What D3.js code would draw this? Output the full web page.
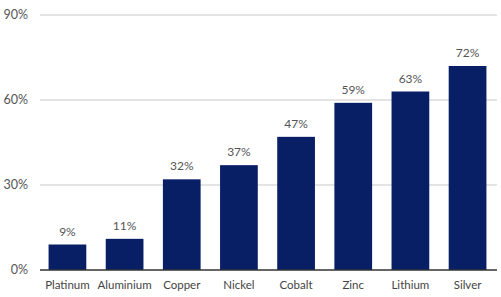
<!DOCTYPE html>
<html>
<head>
<meta charset="utf-8">
<script src="https://cdn.jsdelivr.net/npm/d3@7"></script>
<style>
  body { margin: 0; background: #fff; }
  text { font-family: Lato, "Open Sans", sans-serif; }
</style>
</head>
<body>
<div id="chart"></div>
<script>
var metals = ["Platinum", "Aluminium", "Copper", "Nickel", "Cobalt", "Zinc", "Lithium", "Silver"];
var shares = [9, 11, 32, 37, 47, 59, 63, 72];
var yTicks = [0, 30, 60, 90];

var width = 501, height = 297;
var margin = { top: 15, right: 4, bottom: 27, left: 40 };

var svg = d3.select("#chart").append("svg")
    .attr("width", width)
    .attr("height", height);

var x = d3.scaleBand()
    .domain(metals)
    .range([margin.left, 495])
    .paddingInner(0.34)
    .paddingOuter(0.15);

var y = d3.scaleLinear()
    .domain([0, 90])
    .range([height - margin.bottom, margin.top]);

// gridlines
svg.selectAll("line.grid")
    .data(yTicks.slice(1))
    .enter().append("line")
    .attr("class", "grid")
    .attr("x1", margin.left)
    .attr("x2", width - margin.right)
    .attr("y1", function(d) { return y(d); })
    .attr("y2", function(d) { return y(d); })
    .attr("stroke", "#c9c9c9")
    .attr("stroke-width", 1);

// y tick labels
svg.selectAll("text.ytick")
    .data(yTicks)
    .enter().append("text")
    .attr("class", "ytick")
    .attr("x", 28)
    .attr("y", function(d) { return y(d); })
    .attr("dy", "0.35em")
    .attr("text-anchor", "end")
    .attr("fill", "#555")
    .style("font-size", "12.5px")
    .text(function(d) { return d + "%"; });

// bars
svg.selectAll("rect.bar")
    .data(shares)
    .enter().append("rect")
    .attr("class", "bar")
    .attr("x", function(d, i) { return x(metals[i]); })
    .attr("width", x.bandwidth())
    .attr("y", function(d) { return y(d); })
    .attr("height", function(d) { return y(0) - y(d); })
    .attr("fill", "#081f66");

// value labels
svg.selectAll("text.val")
    .data(shares)
    .enter().append("text")
    .attr("class", "val")
    .attr("x", function(d, i) { return x(metals[i]) + x.bandwidth() / 2; })
    .attr("y", function(d) { return y(d) - 9; })
    .attr("text-anchor", "middle")
    .attr("fill", "#555")
    .style("font-size", "12px")
    .text(function(d) { return d + "%"; });

// baseline
svg.append("line")
    .attr("x1", margin.left)
    .attr("x2", width - margin.right)
    .attr("y1", y(0))
    .attr("y2", y(0))
    .attr("stroke", "#333")
    .attr("stroke-width", 1.5);

// category labels
svg.selectAll("text.cat")
    .data(metals)
    .enter().append("text")
    .attr("class", "cat")
    .attr("x", function(d) { return x(d) + x.bandwidth() / 2; })
    .attr("y", y(0) + 19)
    .attr("text-anchor", "middle")
    .attr("fill", "#444")
    .style("font-size", "11.5px")
    .text(function(d) { return d; });
</script>
</body>
</html>
